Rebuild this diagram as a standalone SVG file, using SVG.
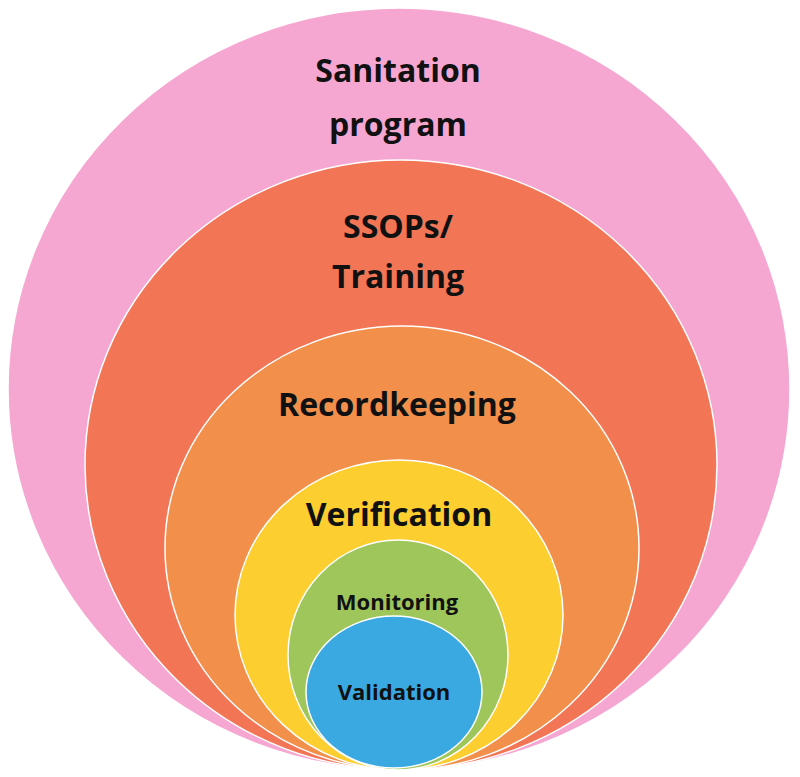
<svg xmlns="http://www.w3.org/2000/svg" width="800" height="777" viewBox="0 0 800 777">
<style>
text{font-family:"Open Sans","Liberation Sans",sans-serif;font-weight:bold;fill:#111;text-anchor:middle}
.r{stroke:#fff;stroke-width:1.5}
</style>
<rect width="800" height="777" fill="#fff"/>
<g id="sanitation"><ellipse class="r" cx="399" cy="389" rx="391" ry="381" fill="#f5a7d2"/>
<text x="398" y="82" font-size="32">Sanitation</text><text x="398" y="136" font-size="32">program</text></g>
<g id="ssops"><ellipse class="r" cx="401" cy="465" rx="316" ry="305" fill="#f27656"/>
<text x="398" y="238" font-size="32">SSOPs/</text><text x="398" y="288" font-size="32">Training</text></g>
<g id="recordkeeping"><ellipse class="r" cx="402" cy="548" rx="237" ry="222" fill="#f28f4a"/>
<text x="397" y="416" font-size="32">Recordkeeping</text></g>
<g id="verification"><ellipse class="r" cx="399" cy="615" rx="164" ry="155" fill="#fcce2f"/>
<text x="399" y="526" font-size="32">Verification</text></g>
<g id="monitoring"><ellipse class="r" cx="398" cy="655" rx="110" ry="115" fill="#9ec65a"/>
<text x="397" y="610" font-size="22">Monitoring</text></g>
<g id="validation"><ellipse class="r" cx="394" cy="692" rx="88" ry="76" fill="#3aa9e2"/>
<text x="394" y="700" font-size="22">Validation</text></g>
<g id="connectors"/>
</svg>
